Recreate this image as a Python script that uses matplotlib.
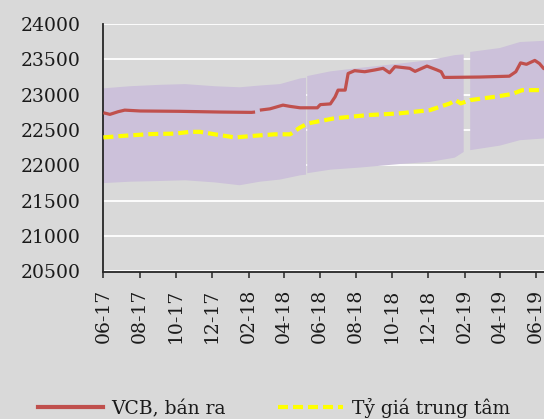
"""VCB selling rate vs. central rate with the +/-3% band."""

import numpy as np
import pandas as pd
import matplotlib

matplotlib.use("Agg")

import matplotlib.pyplot as plt  # noqa: E402
import matplotlib.dates as mdates  # noqa: E402
from matplotlib.lines import Line2D  # noqa: E402

# VCB selling rate (NaN = missing days)
vcb_dates = [
    "2017-06-01", "2017-06-12", "2017-06-26", "2017-07-07", "2017-08-02",
    "2017-10-08", "2017-12-15", "2018-02-06", "2018-02-12", "2018-02-16",
    "2018-02-20", "2018-03-09", "2018-03-31", "2018-04-12", "2018-04-29",
    "2018-05-28", "2018-06-02", "2018-06-19", "2018-06-27", "2018-07-02",
    "2018-07-14", "2018-07-19", "2018-07-30", "2018-08-16", "2018-09-02",
    "2018-09-16", "2018-09-27", "2018-10-06", "2018-10-31", "2018-11-09",
    "2018-11-29", "2018-12-16", "2018-12-23", "2018-12-28", "2019-01-07",
    "2019-02-26", "2019-04-17", "2019-04-28", "2019-05-06", "2019-05-16",
    "2019-05-30", "2019-06-07", "2019-06-14", "2019-06-24",
]
vcb_sell = [
    22745, 22722, 22760, 22782, 22770,
    22765, 22755, 22750, 22755, np.nan,
    22782, 22800, 22853, 22835, 22815,
    22815, 22860, 22870, 22970, 23065,
    23065, 23300, 23340, 23325, 23350,
    23373, 23310, 23397, 23373, 23330,
    23405, 23350, 23325, 23245, 23245,
    23250, 23262, 23325, 23450, 23430,
    23485, 23440, 23370, 23350,
]

# central rate
central_dates = [
    "2017-06-01", "2017-07-07", "2017-08-19", "2017-09-30", "2017-10-25",
    "2017-11-11", "2017-12-06", "2018-01-09", "2018-02-12", "2018-03-17",
    "2018-04-12", "2018-04-29", "2018-05-12", "2018-06-25", "2018-08-20",
    "2018-10-12", "2018-12-04", "2019-01-07", "2019-01-16", "2019-01-25",
    "2019-02-10", "2019-03-24", "2019-04-21", "2019-05-09", "2019-06-24",
]
central_rate = [
    22396, 22420, 22443, 22450, 22475,
    22475, 22440, 22396, 22420, 22440,
    22440, 22537, 22594, 22665, 22711,
    22735, 22782, 22877, 22924, 22877,
    22924, 22971, 23009, 23065, 23065,
]

# trading band, upper / lower edge (NaN = gaps)
band_dates = [
    "2017-06-01", "2017-07-16", "2017-09-05", "2017-10-17", "2017-12-06",
    "2018-01-17", "2018-02-20", "2018-03-26", "2018-04-29", "2018-05-09",
    "2018-05-10", "2018-05-11", "2018-06-19", "2018-08-08", "2018-10-14",
    "2018-12-04", "2019-01-15", "2019-01-30", "2019-02-04", "2019-02-10",
    "2019-04-01", "2019-05-05", "2019-06-14", "2019-06-24",
]
band_upper = [
    23090, 23120, 23140, 23150, 23120,
    23105, 23130, 23150, 23230, 23240,
    np.nan, 23264, 23330, 23380, 23440,
    23490, 23560, 23570, np.nan, 23605,
    23660, 23745, 23762, 23765,
]
band_lower = [
    21750, 21770, 21780, 21790, 21760,
    21720, 21770, 21800, 21860, 21870,
    np.nan, 21890, 21940, 21970, 22020,
    22050, 22110, 22190, np.nan, 22216,
    22280, 22357, 22381, 22390,
]

plt.rcParams["font.family"] = "DejaVu Serif"

fig = plt.figure(figsize=(5.44, 4.19), dpi=100, facecolor="#d9d9d9")
W, H = 544, 419
x0, x1, ytop, ybot = 103.4, 565.0, 24.0, 271.5
ax = fig.add_axes([x0 / W, 1 - ybot / H, (x1 - x0) / W, (ybot - ytop) / H])
ax.set_facecolor("#d9d9d9")

bd = pd.to_datetime(band_dates)
ax.fill_between(bd, band_lower, band_upper, color="#ccc1da", lw=0, zorder=2)
ax.plot(pd.to_datetime(vcb_dates), vcb_sell, color="#c0504d", lw=2.3,
        zorder=3, solid_capstyle="butt")
ax.plot(pd.to_datetime(central_dates), central_rate, color="#ffff00", lw=3.0,
        dashes=(2.4, 1.2), zorder=4)

ax.set_xlim(pd.Timestamp("2017-06-01"), pd.Timestamp("2019-07-20"))
ax.set_ylim(20500, 24000)
ax.set_yticks(range(20500, 24001, 500))
ax.grid(axis="y", color="white", lw=1.3, zorder=1)
ax.set_axisbelow(True)

ax.xaxis.set_major_locator(mdates.MonthLocator(bymonth=range(2, 13, 2)))
ax.xaxis.set_major_formatter(mdates.DateFormatter("%m-%y"))
ax.tick_params(axis="x", length=4.3, width=1.1, color="#262626", pad=8,
               labelsize=13.5, labelrotation=90, labelcolor="#1a1a1a")
ax.tick_params(axis="y", length=0, pad=16.5, labelsize=13.5,
               labelcolor="#1a1a1a")

for s in ("top", "right"):
    ax.spines[s].set_visible(False)
for s in ("left", "bottom"):
    ax.spines[s].set_color("#262626")
    ax.spines[s].set_linewidth(1.3)

handles = [
    Line2D([], [], color="#c0504d", lw=3.0),
    Line2D([], [], color="#ffff00", lw=3.0, dashes=(2.4, 1.2)),
]
fig.legend(handles, ["VCB, bán ra", "Tỷ giá trung tâm"], loc="center left",
           bbox_to_anchor=(37.5 / W, 1 - 408 / H), ncol=2, frameon=False,
           fontsize=13.5, handlelength=3.5, handletextpad=0.45,
           columnspacing=2.75, borderpad=0, borderaxespad=0,
           labelcolor="#1a1a1a")

fig.savefig("out.png", dpi=100, facecolor=fig.get_facecolor())
plt.close(fig)
